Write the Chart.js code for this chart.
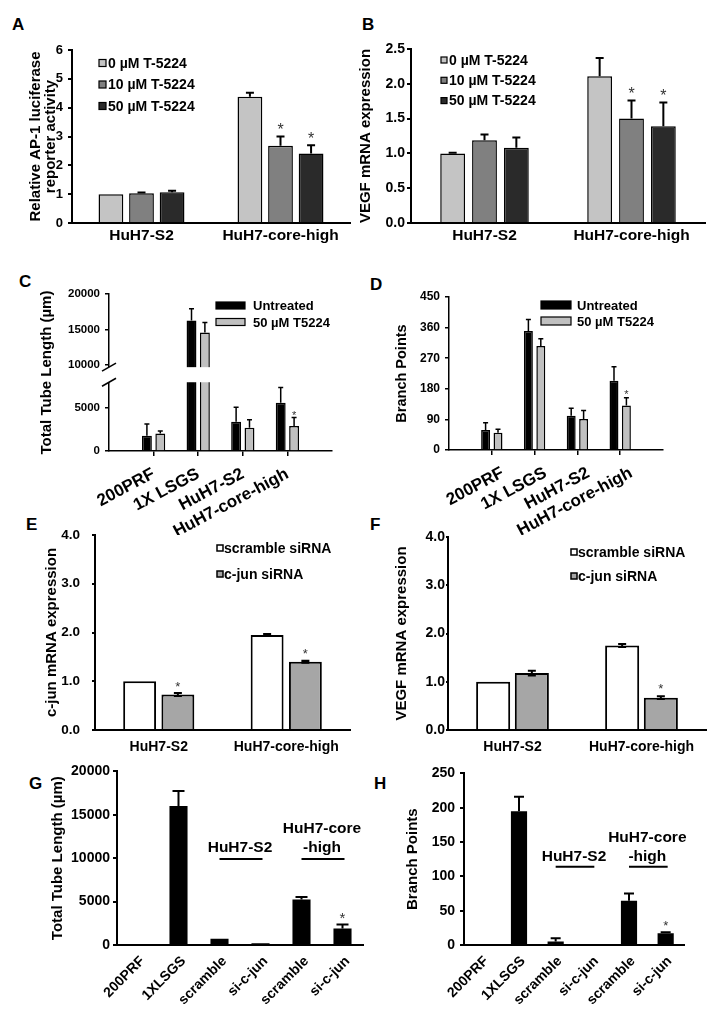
<!DOCTYPE html>
<html>
<head>
<meta charset="utf-8">
<script src="https://cdn.jsdelivr.net/npm/chart.js@4.4.0/dist/chart.umd.min.js"></script>
<style>
body { margin: 0; background: #fff; width: 716px; height: 1019px; position: relative; overflow: hidden; font-family: 'Liberation Sans', Arial, sans-serif; }
canvas { position: absolute; }
.lbl { position: absolute; font-weight: bold; font-size: 17px; line-height: 17px; color: #000; }
</style>
</head>
<body>
<div class="lbl" style="left:12px;top:16px">A</div>
<div class="lbl" style="left:362px;top:16px">B</div>
<div class="lbl" style="left:19px;top:273px">C</div>
<div class="lbl" style="left:370px;top:276px">D</div>
<div class="lbl" style="left:26px;top:516px">E</div>
<div class="lbl" style="left:370px;top:516px">F</div>
<div class="lbl" style="left:29px;top:775px">G</div>
<div class="lbl" style="left:374px;top:775px">H</div>
<script>
// --- A / B: AP-1 reporter activity and VEGF mRNA with T-5224 ---
var abGroups = ["HuH7-S2", "HuH7-core-high"];
var abDoses = ["0 µM T-5224", "10 µM T-5224", "50 µM T-5224"];
var abColors = ["#c4c4c4", "#808080", "#2a2a2a"];
var aMeans = [[1.00, 4.38], [1.03, 2.68], [1.07, 2.41]];
var aErr = [[0.00, 0.14], [0.03, 0.32], [0.05, 0.29]];
var aStar = [[0, 0], [0, 1], [0, 1]];
var bMeans = [[1.00, 2.11], [1.19, 1.50], [1.08, 1.39]];
var bErr = [[0.01, 0.26], [0.08, 0.26], [0.15, 0.34]];
var bStar = [[0, 0], [0, 1], [0, 1]];

// --- C / D: tube formation with T5224 ---
var cdGroups = ["200PRF", "1X LSGS", "HuH7-S2", "HuH7-core-high"];
var cdTreat = ["Untreated", "50 µM T5224"];
var cdColors = ["#000000", "#c0c0c0"];
var cMeans = [[1780, 16280, 3400, 5620], [2050, 14590, 2710, 2900]];
var cErr = [[1360, 1650, 1680, 1780], [280, 1410, 930, 1000]];
var dMeans = [[59, 350, 101, 204], [51, 306, 91, 131]];
var dErr = [[21, 34, 22, 41], [10, 21, 25, 23]];
var cdStar = [[0, 0, 0, 0], [0, 0, 0, 1]];

// --- E / F: c-jun knockdown ---
var efGroups = ["HuH7-S2", "HuH7-core-high"];
var efSi = ["scramble siRNA", "c-jun siRNA"];
var efColors = ["#ffffff", "#a6a6a6"];
var eMeans = [[1.00, 1.95], [0.73, 1.40]];
var eErr = [[0.00, 0.02], [0.03, 0.02]];
var eStar = [[0, 0], [1, 1]];
var fMeans = [[1.00, 1.75], [1.18, 0.67]];
var fErr = [[0.00, 0.03], [0.05, 0.03]];
var fStar = [[0, 0], [0, 1]];

// --- G / H: tube formation after c-jun siRNA ---
var ghCats = ["200PRF", "1XLSGS", "scramble", "si-c-jun", "scramble", "si-c-jun"];
var gMeans = [120, 16000, 720, 200, 5230, 1910];
var gErr = [0, 1750, 0, 0, 300, 460];
var hMeans = [1.5, 195, 5, 1, 64.5, 17];
var hErr = [0, 21, 5, 0, 10.5, 1.5];
var ghStar = [0, 0, 0, 0, 0, 1];

var FONT = "'Liberation Sans', Arial, sans-serif";
Chart.defaults.font.family = FONT;
Chart.defaults.font.weight = "bold";
Chart.defaults.color = "#000";

// broken y axis for panel C
var cBreak = { lo: 8000, hi: 9700, loPos: 0.438, hiPos: 0.534 };
class BrokenScale extends Chart.LinearScale {
    getPixelForValue(value) {
        if (value === null || value === undefined || isNaN(value)) return NaN;
        var d;
        if (value <= cBreak.lo) d = (value - this.min) / (cBreak.lo - this.min) * cBreak.loPos;
        else if (value >= cBreak.hi) d = cBreak.hiPos + (value - cBreak.hi) / (this.max - cBreak.hi) * (1 - cBreak.hiPos);
        else d = cBreak.loPos + (value - cBreak.lo) / (cBreak.hi - cBreak.lo) * (cBreak.hiPos - cBreak.loPos);
        return this.getPixelForDecimal(d);
    }
}
BrokenScale.id = "broken";
Chart.register(BrokenScale);

var axisBreak = {
    id: "axisBreak",
    afterDatasetsDraw: function(chart) {
        var y = chart.scales.y, ar = chart.chartArea, ctx = chart.ctx;
        var t = y.getPixelForValue(cBreak.hi), b = y.getPixelForValue(cBreak.lo);
        ctx.save();
        ctx.fillStyle = "#fff";
        ctx.fillRect(ar.left - 3, t, ar.right - ar.left + 3, b - t);
        ctx.strokeStyle = "#000"; ctx.lineWidth = 1.5;
        [t, b].forEach(function(py) {
            ctx.beginPath(); ctx.moveTo(ar.left - 7, py + 4); ctx.lineTo(ar.left + 7, py - 4); ctx.stroke();
        });
        ctx.restore();
    }
};

var errorBars = {
    id: "errorBars",
    afterDatasetsDraw: function(chart, args, o) {
        var ctx = chart.ctx, y = chart.scales.y;
        ctx.save(); ctx.strokeStyle = "#000"; ctx.lineWidth = o.width;
        chart.data.datasets.forEach(function(ds, di) {
            chart.getDatasetMeta(di).data.forEach(function(bar, i) {
                var v = ds.data[i], e = ds.err[i];
                if (v == null || !e) return;
                var top = y.getPixelForValue(v + e), bot = o.both ? y.getPixelForValue(v - e) : bar.y;
                ctx.beginPath();
                ctx.moveTo(bar.x, bot); ctx.lineTo(bar.x, top);
                ctx.moveTo(bar.x - o.cap / 2, top); ctx.lineTo(bar.x + o.cap / 2, top);
                if (o.both) { ctx.moveTo(bar.x - o.cap / 2, bot); ctx.lineTo(bar.x + o.cap / 2, bot); }
                ctx.stroke();
            });
        });
        ctx.restore();
    }
};

var stars = {
    id: "stars",
    afterDatasetsDraw: function(chart, args, o) {
        var ctx = chart.ctx, y = chart.scales.y;
        ctx.save(); ctx.fillStyle = "#333"; ctx.font = "normal " + o.size + "px " + FONT;
        ctx.textAlign = "center"; ctx.textBaseline = "alphabetic";
        chart.data.datasets.forEach(function(ds, di) {
            chart.getDatasetMeta(di).data.forEach(function(bar, i) {
                if (!ds.star[i]) return;
                var top = y.getPixelForValue(ds.data[i] + (ds.err[i] || 0));
                ctx.fillText("*", bar.x, top - o.gap + 0.56 * o.size);
            });
        });
        ctx.restore();
    }
};

var boxLegend = {
    id: "boxLegend",
    afterDraw: function(chart, args, o) {
        var ctx = chart.ctx, a = chart.chartArea;
        ctx.save(); ctx.font = "bold " + o.size + "px " + FONT; ctx.textBaseline = "middle";
        chart.data.datasets.forEach(function(ds, i) {
            var cy = a.top + o.y + i * o.gap, bx = a.left + o.x;
            ctx.fillStyle = ds.backgroundColor; ctx.fillRect(bx, cy - o.h / 2, o.w, o.h);
            ctx.strokeStyle = "#000"; ctx.lineWidth = o.lw; ctx.strokeRect(bx, cy - o.h / 2, o.w, o.h);
            ctx.fillStyle = "#000"; ctx.fillText(ds.label, bx + o.w + o.tgap, cy + 1);
        });
        ctx.restore();
    }
};

var groupLabels = {
    id: "groupLabels",
    afterDraw: function(chart, args, o) {
        var ctx = chart.ctx, x = chart.scales.x, y = chart.scales.y;
        ctx.save(); ctx.font = "bold " + o.size + "px " + FONT; ctx.textAlign = "center"; ctx.textBaseline = "middle";
        ctx.strokeStyle = "#000"; ctx.lineWidth = 2; ctx.fillStyle = "#000";
        o.groups.forEach(function(g) {
            var x1 = x.getPixelForValue(g.from), x2 = x.getPixelForValue(g.to), ly = y.getPixelForValue(o.at);
            ctx.beginPath(); ctx.moveTo(x1, ly); ctx.lineTo(x2 + 2, ly); ctx.stroke();
            var n = g.lines.length;
            g.lines.forEach(function(t, k) {
                ctx.fillText(t, (x1 + x2) / 2, ly - o.gap - (n - 1 - k) * o.lh);
            });
        });
        ctx.restore();
    }
};

function pad(arr, v) { return [v].concat(arr, [v]); }

function yAxis(o) {
    return {
        type: o.type || "linear", min: o.min, max: o.max,
        ticks: { stepSize: o.step, font: { size: o.tick }, padding: o.tp,
                 callback: function(v) { return o.dec ? v.toFixed(o.dec) : String(v); } },
        grid: { drawOnChartArea: false, tickLength: o.tl, color: "#000", lineWidth: o.lw },
        border: { color: "#000", width: o.lw },
        title: { display: true, text: o.title, font: { size: o.ts, lineHeight: o.tlh || 1 }, padding: { top: o.tpad, bottom: 0 } }
    };
}

function xAxis(o) {
    var off = o.offset !== false;
    return {
        offset: off,
        grid: { offset: off, drawOnChartArea: false, drawTicks: !!o.tl, tickLength: o.tl || 0, lineWidth: o.lw,
                color: function(ctx) { return o.ends && (ctx.index === 0 || ctx.index === o.ends) ? "rgba(0,0,0,0)" : "#000"; } },
        border: { color: "#000", width: o.lw },
        ticks: { font: { size: o.size }, padding: o.pad, labelOffset: o.shift || 0, autoSkip: false,
                 minRotation: o.rot || 0, maxRotation: o.rot || 0 }
    };
}

function makeChart(box, area, cfg, plugins) {
    var cv = document.createElement("canvas");
    cv.width = box[2]; cv.height = box[3];
    cv.style.left = box[0] + "px"; cv.style.top = box[1] + "px";
    document.body.appendChild(cv);
    var o = cfg.options;
    o.animation = false; o.responsive = false; o.devicePixelRatio = 1;
    o.layout = { padding: { left: 0, bottom: 0, top: area[1] - box[1], right: box[0] + box[2] - area[2] } };
    o.scales.y.afterFit = function(s) { s.width = area[0] - box[0]; };
    o.scales.x.afterFit = function(s) { s.height = box[1] + box[3] - area[3]; };
    o.plugins.legend = { display: false };
    o.plugins.tooltip = { enabled: false };
    cfg.plugins = plugins;
    return new Chart(cv, cfg);
}

function groupedSets(names, colors, means, errs, flags, bw, cp, bp, padded) {
    return names.map(function(lab, i) {
        return {
            label: lab,
            data: padded ? pad(means[i], null) : means[i],
            err: padded ? pad(errs[i], 0) : errs[i],
            star: padded ? pad(flags[i], 0) : flags[i],
            backgroundColor: colors[i], borderColor: "#000", borderWidth: bw,
            categoryPercentage: cp, barPercentage: bp
        };
    });
}

// A
makeChart([0, 0, 358, 255], [72, 50, 350, 223], {
    type: "bar",
    data: { labels: abGroups, datasets: groupedSets(abDoses, abColors, aMeans, aErr, aStar, 1.5, 0.66, 0.81) },
    options: {
        scales: {
            x: xAxis({ size: 15.5, pad: 3, lw: 2 }),
            y: yAxis({ min: 0, max: 6, step: 1, tick: 13, tl: 4, tp: 5, lw: 2,
                       title: ["Relative AP-1 luciferase", "reporter activity"], ts: 15, tlh: 0.95, tpad: 29 })
        },
        plugins: {
            errorBars: { width: 2, cap: 8 },
            stars: { gap: 10, size: 16 },
            boxLegend: { x: 27, y: 13, gap: 21.5, w: 7, h: 7, tgap: 2, size: 14, lw: 1.2 }
        }
    }
}, [errorBars, stars, boxLegend]);

// B
makeChart([358, 0, 358, 255], [411, 49, 705, 223], {
    type: "bar",
    data: { labels: abGroups, datasets: groupedSets(abDoses, abColors, bMeans, bErr, bStar, 1.5, 0.65, 0.78) },
    options: {
        scales: {
            x: xAxis({ size: 15.5, pad: 3, lw: 2 }),
            y: yAxis({ min: 0, max: 2.5, step: 0.5, dec: 1, tick: 14, tl: 4, tp: 2, lw: 2,
                       title: "VEGF mRNA expression", ts: 15, tpad: 0.5 })
        },
        plugins: {
            errorBars: { width: 2, cap: 8 },
            stars: { gap: 10.7, size: 16 },
            boxLegend: { x: 30, y: 11, gap: 20.3, w: 6, h: 6, tgap: 2, size: 14, lw: 1.2 }
        }
    }
}, [errorBars, stars, boxLegend]);

// C
makeChart([0, 260, 358, 275], [109, 294, 332, 451], {
    type: "bar",
    data: { labels: pad(cdGroups, ""), datasets: groupedSets(cdTreat, cdColors, cMeans, cErr, cdStar, 1.5, 0.6, 0.74, true) },
    options: {
        scales: {
            x: xAxis({ offset: false, ends: 5, tl: 5, size: 17, rot: 28, pad: 8, lw: 1.5 }),
            y: yAxis({ type: "broken", min: 0, max: 20000, step: 5000, tick: 11.5, tl: 4, tp: 5, lw: 1.5,
                       title: "Total Tube Length (µm)", ts: 15, tpad: 39 })
        },
        plugins: {
            errorBars: { width: 1.5, cap: 5 },
            stars: { gap: 4.6, size: 11 },
            boxLegend: { x: 107, y: 11.5, gap: 16.5, w: 29, h: 7, tgap: 8, size: 13, lw: 1.2 }
        }
    }
}, [axisBreak, errorBars, stars, boxLegend]);

// D
makeChart([358, 260, 358, 275], [449, 297, 663, 450], {
    type: "bar",
    data: { labels: pad(cdGroups, ""), datasets: groupedSets(cdTreat, cdColors, dMeans, dErr, cdStar, 1.5, 0.58, 0.72, true) },
    options: {
        scales: {
            x: xAxis({ offset: false, ends: 5, tl: 5, size: 17, rot: 28, pad: 8, shift: 11, lw: 1.5 }),
            y: yAxis({ min: 0, max: 450, step: 90, tick: 12, tl: 4, tp: 5, lw: 1.5,
                       title: "Branch Points", ts: 14.5, tpad: 36.75 })
        },
        plugins: {
            errorBars: { width: 1.5, cap: 5 },
            stars: { gap: 6, size: 11 },
            boxLegend: { x: 92, y: 8, gap: 16, w: 30, h: 8, tgap: 6, size: 13, lw: 1.2 }
        }
    }
}, [errorBars, stars, boxLegend]);

// E
makeChart([0, 505, 358, 265], [95, 535, 350, 730], {
    type: "bar",
    data: { labels: efGroups, datasets: groupedSets(efSi, efColors, eMeans, eErr, eStar, 2, 0.6, 0.86) },
    options: {
        scales: {
            x: xAxis({ size: 14, pad: 9, lw: 2 }),
            y: yAxis({ min: 0, max: 4, step: 1, dec: 1, tick: 13.5, tl: 3, tp: 12, lw: 2,
                       title: "c-jun mRNA expression", ts: 15, tpad: 44 })
        },
        plugins: {
            errorBars: { width: 2, cap: 8, both: true },
            stars: { gap: 9.7, size: 13 },
            boxLegend: { x: 122, y: 13, gap: 26, w: 6, h: 6, tgap: 1, size: 14, lw: 1.5 }
        }
    }
}, [errorBars, stars, boxLegend]);

// F
makeChart([358, 505, 358, 265], [448, 537, 706, 730], {
    type: "bar",
    data: { labels: efGroups, datasets: groupedSets(efSi, efColors, fMeans, fErr, fStar, 2, 0.6, 0.88) },
    options: {
        scales: {
            x: xAxis({ size: 14, pad: 9, lw: 2 }),
            y: yAxis({ min: 0, max: 4, step: 1, dec: 1, tick: 14, tl: 2, tp: 1, lw: 2,
                       title: "VEGF mRNA expression", ts: 15, tpad: 36.5 })
        },
        plugins: {
            errorBars: { width: 2, cap: 8, both: true },
            stars: { gap: 11, size: 13 },
            boxLegend: { x: 123, y: 15, gap: 24, w: 6, h: 6, tgap: 1, size: 14, lw: 1.5 }
        }
    }
}, [errorBars, stars, boxLegend]);

// G
makeChart([0, 760, 372, 259], [117, 770, 363, 945], {
    type: "bar",
    data: { labels: ghCats, datasets: [{ label: "G", data: gMeans, err: gErr, star: ghStar, backgroundColor: "#000",
                                         borderWidth: 0, categoryPercentage: 0.9, barPercentage: 0.49 }] },
    options: {
        scales: {
            x: xAxis({ size: 14, rot: 45, pad: 8, shift: 5, lw: 2 }),
            y: yAxis({ min: 0, max: 20000, step: 5000, tick: 14, tl: 4, tp: 3, lw: 2,
                       title: "Total Tube Length (µm)", ts: 15, tpad: 50 })
        },
        plugins: {
            errorBars: { width: 2, cap: 12 },
            stars: { gap: 10, size: 15 },
            groupLabels: { at: 9900, gap: 11, lh: 19, size: 15.5,
                           groups: [{ from: 2, to: 3, lines: ["HuH7-S2"] }, { from: 4, to: 5, lines: ["HuH7-core", "-high"] }] }
        }
    }
}, [errorBars, stars, groupLabels]);

// H
makeChart([358, 760, 358, 259], [464, 773, 684, 945], {
    type: "bar",
    data: { labels: ghCats, datasets: [{ label: "H", data: hMeans, err: hErr, star: ghStar, backgroundColor: "#000",
                                         borderWidth: 0, categoryPercentage: 0.9, barPercentage: 0.49 }] },
    options: {
        scales: {
            x: xAxis({ size: 14, rot: 45, pad: 8, shift: 4, lw: 2 }),
            y: yAxis({ min: 0, max: 250, step: 50, tick: 14, tl: 4, tp: 5, lw: 2,
                       title: "Branch Points", ts: 15, tpad: 47.5 })
        },
        plugins: {
            errorBars: { width: 2, cap: 10 },
            stars: { gap: 10, size: 13 },
            groupLabels: { at: 114, gap: 10.5, lh: 18.5, size: 15.5,
                           groups: [{ from: 2, to: 3, lines: ["HuH7-S2"] }, { from: 4, to: 5, lines: ["HuH7-core", "-high"] }] }
        }
    }
}, [errorBars, stars, groupLabels]);
</script>
</body>
</html>
